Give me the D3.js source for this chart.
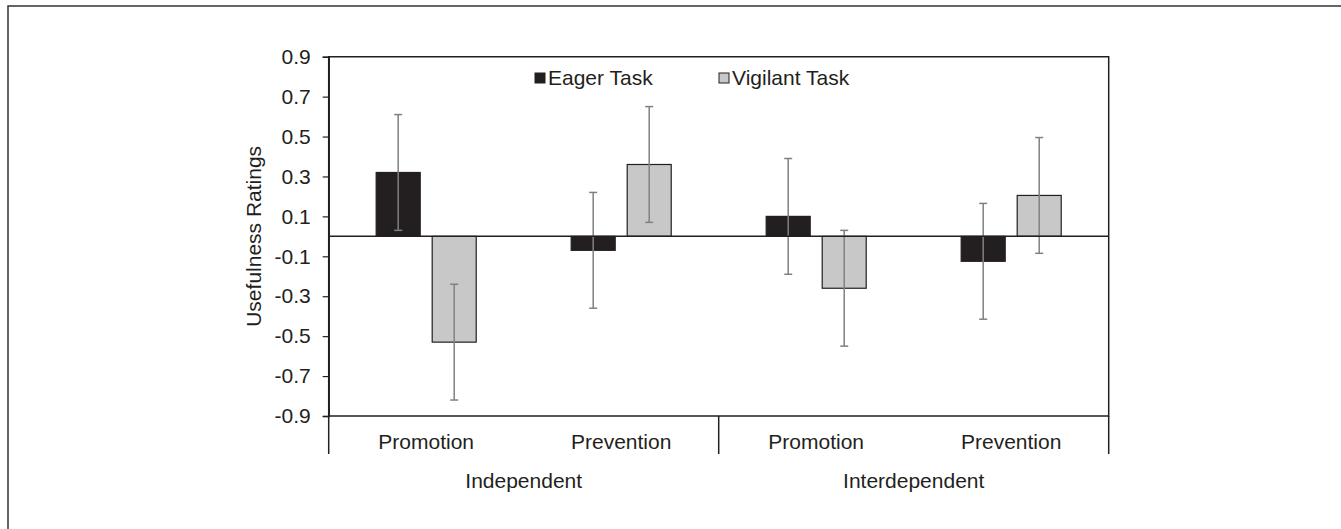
<!DOCTYPE html>
<html>
<head>
<meta charset="utf-8">
<script src="https://cdn.jsdelivr.net/npm/d3@7"></script>
<style>
  html, body { margin: 0; padding: 0; background: #fff; }
  svg { display: block; }
  text { font-family: "Liberation Sans", Arial, sans-serif; fill: #231f20; }
</style>
</head>
<body>
<svg id="chart" width="1341" height="529"></svg>
<script>
// Usefulness ratings by self-construal, regulatory focus and task type
const groups = ["Independent", "Interdependent"];
const focuses = ["Promotion", "Prevention"];
const categories = ["Independent|Promotion", "Independent|Prevention", "Interdependent|Promotion", "Interdependent|Prevention"];
const series = ["Eager Task", "Vigilant Task"];
const eagerValues = [0.32, -0.07, 0.10, -0.125];
const vigilantValues = [-0.53, 0.36, -0.26, 0.205];
const errorValues = [0.29, 0.29, 0.29, 0.29];
const yTicks = [0.9, 0.7, 0.5, 0.3, 0.1, -0.1, -0.3, -0.5, -0.7, -0.9];

const seriesValues = [eagerValues, vigilantValues];
const seriesFill = ["#231f20", "#c8c8c8"];
const FS = 21;

const svg = d3.select("#chart");
const W = 1341, H = 529;
const plot = { left: 328.7, right: 1108.7, top: 56.7, bottom: 416 };

// outer frame
svg.append("rect").attr("x", 8).attr("y", 6).attr("width", W).attr("height", H)
  .attr("fill", "none").attr("stroke", "#333").attr("stroke-width", 1.5);

const y = d3.scaleLinear().domain([-0.9, 0.9]).range([plot.bottom, plot.top]);
const x0 = d3.scaleBand().domain(categories).range([plot.left, plot.right])
  .paddingInner(0.487).paddingOuter(0.2435);
const x1 = d3.scaleBand().domain(series).range([0, x0.bandwidth()]).paddingInner(0.214);
const step = x0.step();

const rows = categories.map((c, i) => ({ cat: c, vals: series.map((s, j) => ({ s, j, v: seriesValues[j][i], e: errorValues[i] })) }));

const g = svg.append("g");

// bars
const catG = g.selectAll(".cat").data(rows).join("g")
  .attr("transform", d => `translate(${x0(d.cat)},0)`);
catG.selectAll("rect").data(d => d.vals).join("rect")
  .attr("x", d => x1(d.s))
  .attr("width", x1.bandwidth())
  .attr("y", d => y(Math.max(0, d.v)))
  .attr("height", d => Math.abs(y(d.v) - y(0)))
  .attr("fill", d => seriesFill[d.j])
  .attr("stroke", "#231f20").attr("stroke-width", 1.2);

// zero line
g.append("line").attr("x1", plot.left).attr("x2", plot.right)
  .attr("y1", y(0)).attr("y2", y(0)).attr("stroke", "#231f20").attr("stroke-width", 1.5);

// error bars
const err = catG.selectAll(".err").data(d => d.vals).join("g").attr("class", "err")
  .attr("stroke", "#808080").attr("stroke-width", 1.5);
err.append("line")
  .attr("x1", d => x1(d.s) + x1.bandwidth() / 2).attr("x2", d => x1(d.s) + x1.bandwidth() / 2)
  .attr("y1", d => y(d.v + d.e)).attr("y2", d => y(d.v - d.e));
[1, -1].forEach(sign => {
  err.append("line")
    .attr("x1", d => x1(d.s) + x1.bandwidth() / 2 - 4).attr("x2", d => x1(d.s) + x1.bandwidth() / 2 + 4)
    .attr("y1", d => y(d.v + sign * d.e)).attr("y2", d => y(d.v + sign * d.e));
});

// plot box
g.append("path")
  .attr("d", `M${plot.left},${plot.top}H${plot.right}V${plot.bottom}H${plot.left}Z`)
  .attr("fill", "none").attr("stroke", "#231f20").attr("stroke-width", 1.5);

// y axis (hyphen-minus for negative labels)
const yAxis = d3.axisLeft(y).tickValues(yTicks).tickSize(6).tickPadding(12)
  .tickFormat(d => d3.format(".1f")(d).replace("\u2212", "-"));
const ya = g.append("g").attr("transform", `translate(${plot.left},0)`).call(yAxis);
ya.select(".domain").attr("stroke", "#231f20").attr("stroke-width", 1.5);
ya.selectAll(".tick line").attr("stroke", "#231f20").attr("stroke-width", 1.2);
ya.selectAll(".tick text").attr("font-size", FS).style("font-family", '"Liberation Sans", Arial, sans-serif').attr("fill", "#231f20");

svg.append("text").attr("transform", `translate(261,${(plot.top + plot.bottom) / 2}) rotate(-90)`)
  .attr("text-anchor", "middle").attr("font-size", FS).text("Usefulness Ratings");

// category axis: vertical dividers between and around groups
const divX = [plot.left, plot.left + 2 * step, plot.right];
g.selectAll(".div").data(divX).join("line")
  .attr("x1", d => d).attr("x2", d => d)
  .attr("y1", plot.bottom).attr("y2", 454)
  .attr("stroke", "#231f20").attr("stroke-width", 1.5);

g.selectAll(".catlab").data(categories).join("text")
  .attr("x", d => x0(d) + x0.bandwidth() / 2)
  .attr("y", 449).attr("text-anchor", "middle").attr("font-size", FS)
  .text(d => d.split("|")[1]);

g.selectAll(".grplab").data(groups).join("text")
  .attr("x", (d, i) => plot.left + step * (2 * i + 1))
  .attr("y", 488).attr("text-anchor", "middle").attr("font-size", FS)
  .text(d => d);

// legend
const legendX = [535, 719];
const leg = svg.selectAll(".leg").data(series).join("g")
  .attr("transform", (d, i) => `translate(${legendX[i]},73)`);
leg.append("rect").attr("width", 10).attr("height", 10)
  .attr("fill", (d, i) => seriesFill[i]).attr("stroke", "#231f20").attr("stroke-width", 1);
leg.append("text").attr("x", 13).attr("y", 11.5).attr("font-size", FS).text(d => d);
</script>
</body>
</html>
